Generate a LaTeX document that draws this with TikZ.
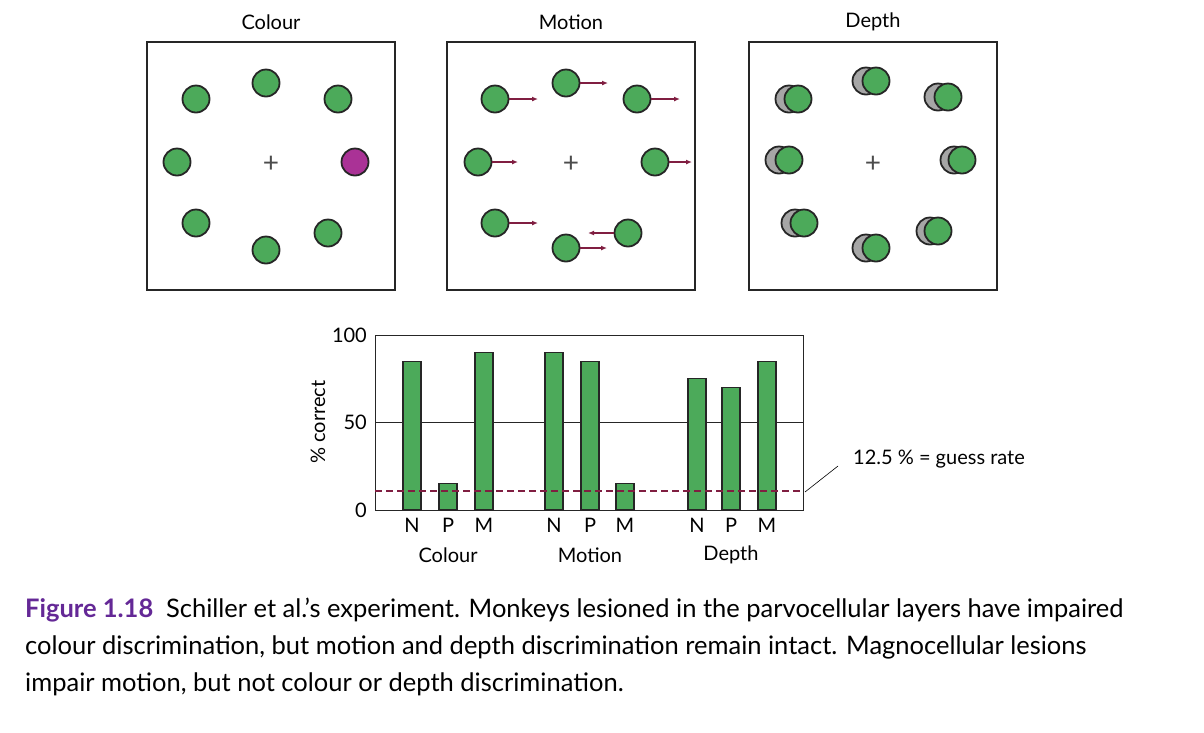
\documentclass[tikz,border=0pt]{standalone}
\usepackage{fontspec}
\setmainfont{Lato}
\usepackage{xcolor}
\definecolor{dotgreen}{RGB}{76,170,90}
\definecolor{dotpurple}{RGB}{170,50,150}
\definecolor{arrowred}{RGB}{128,30,65}
\definecolor{figpurple}{RGB}{100,40,150}
\tikzset{
  dot/.style={circle,draw=black!85,line width=1.8pt,fill=dotgreen,minimum size=27pt,inner sep=0pt},
  ghost/.style={dot,fill=black!35},
  panel/.style={draw=black!85,line width=1.6pt},
  bar/.style={draw=black!85,line width=1.4pt,fill=dotgreen},
  move/.style={arrowred,line width=1.2pt,-{Latex[length=6pt,width=5pt]}},
  lbl/.style={inner sep=0pt,font=\fontsize{20}{22}\selectfont}
}
\usetikzlibrary{arrows.meta}
\begin{document}
\begin{tikzpicture}[x=1pt,y=-1pt]
\useasboundingbox (0,0) rectangle (1204,732);

%Panels
\draw[panel] (147,42) rectangle (395,290);
\draw[panel] (447,42) rectangle (695,290);
\draw[panel] (749,42) rectangle (997,290);
\node[lbl] (tcol) at (271,22) {Colour};
\node[lbl] (tmot) at (571,22) {Motion};
\node[lbl] (tdep) at (873,22) {Depth};
\foreach \cx in {271,571,873}
  \node[lbl,font=\fontsize{28}{28}\selectfont\color{black!70}] at (\cx,164) {+};

%Colour dots
\foreach \n/\x/\y in {a/196/99,b/266/83,c/338/99,d/177/162,f/196/223,g/266/250,h/328/233}
  \node[dot] (c\n) at (\x,\y) {};
\node[dot,fill=dotpurple] (ce) at (355,162) {};

%Motion dots
\foreach \n/\x/\y/\t in {a/495/99/538,b/566/83/608,c/637/99/680,d/478/162/518,e/655/162/692,f/495/223/538,g/566/248/607}{
  \node[dot] (m\n) at (\x,\y) {};
  \coordinate (mt\n) at (\t,\y);
  \draw[move] (m\n.east) -- (mt\n);
}
\node[dot] (mh) at (628,233) {};
\coordinate (mth) at (588,233);
\draw[move] (mh.west) -- (mth);

%Depth dots
\foreach \n/\x/\y/\g in {a/798/99/789,b/876/81/866,c/948/97/938,d/789/160/779,e/962/160/954,f/804/223/795,g/876/248/866,h/938/231/930}{
  \node[ghost] (dg\n) at (\g,\y) {};
  \node[dot] (d\n) at (\x,\y) {};
}

%Chart
\draw[line width=1pt,black!85] (375,335) rectangle (803,510);
\draw[line width=1pt,black!85] (375,422.5) -- (803,422.5);
\node[lbl,anchor=east] (y100) at (367,335) {100};
\node[lbl,anchor=east] (y50) at (367,422) {50};
\node[lbl,anchor=east] (y0) at (367,510) {0};
\node[lbl,rotate=90] (ylab) at (318,422) {\% correct};
\foreach \x/\v/\l in {412/85/N,448/15/P,484/90/M,554/90/N,590/85/P,625/15/M,697/75/N,731/70/P,767/85/M}{
  \draw[bar] (\x-9,510) rectangle (\x+9,510-1.75*\v);
  \node[lbl] at (\x,525) {\l};
}
\draw[arrowred,line width=1.3pt,dash pattern=on 7pt off 4pt] (375,491) -- (803,491);
\node[lbl] (gcol) at (448,555) {Colour};
\node[lbl] (gmot) at (590,555) {Motion};
\node[lbl] (gdep) at (731,555) {Depth};
\node[lbl,anchor=west] (guess) at (853,459) {12.5 \% = guess rate};
\coordinate (gp) at (805,492);
\draw[line width=0.6pt] (gp) -- (838,466);

%Caption
\node[anchor=north west,inner sep=0pt,align=left,font=\fontsize{25.5}{37}\selectfont] (cap) at (25,598)
{{\bfseries\color{figpurple}Figure 1.18}\enspace Schiller et al.’s experiment. Monkeys lesioned in the parvocellular layers have impaired\\
colour discrimination, but motion and depth discrimination remain intact. Magnocellular lesions\\
impair motion, but not colour or depth discrimination.};

\end{tikzpicture}
\end{document}
